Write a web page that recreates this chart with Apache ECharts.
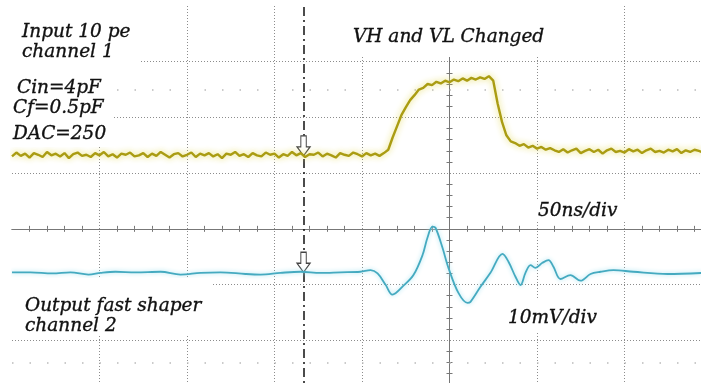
<!DOCTYPE html>
<html><head><meta charset="utf-8">
<script src="https://cdn.jsdelivr.net/npm/echarts@6/dist/echarts.min.js"></script>
<style>html,body{margin:0;padding:0;background:#fff}#c{width:701px;height:383px}</style>
</head><body><div id="c"></div><script>
// Time axis in ns (50 ns/div), vertical axis in screen divisions
const ch1Start = -250, ch1Step = 2.5;
const ch1Values = [
1.30,1.37,1.31,1.35,1.28,1.36,1.33,1.29,1.38,1.32,
1.35,1.30,1.36,1.27,1.34,1.37,1.31,1.33,1.29,1.36,
1.32,1.38,1.30,1.34,1.28,1.35,1.33,1.37,1.30,1.32,
1.36,1.29,1.35,1.31,1.38,1.33,1.28,1.34,1.36,1.30,
1.33,1.37,1.29,1.35,1.32,1.36,1.30,1.34,1.27,1.35,
1.33,1.38,1.31,1.34,1.29,1.36,1.32,1.30,1.37,1.33,
1.35,1.28,1.34,1.31,1.38,1.32,1.36,1.29,1.34,1.33,
1.37,1.30,1.35,1.32,1.28,1.36,1.33,1.31,1.37,1.34,
1.30,1.36,1.32,1.35,1.31,1.36,
1.42,1.64,1.84,2.04,2.18,2.31,2.40,2.50,2.53,2.60,
2.58,2.64,2.61,2.66,2.63,2.68,2.65,2.70,2.66,2.71,
2.68,2.72,2.69,2.74,2.66,2.25,1.92,1.68,1.57,1.54,
1.49,1.52,1.46,1.49,1.44,1.47,1.42,1.45,1.41,
1.38,1.43,1.37,1.41,1.44,1.36,1.40,1.43,1.38,1.42,
1.35,1.41,1.44,1.38,1.40,1.37,1.43,1.39,1.42,1.36,
1.41,1.44,1.38,1.40,1.37,1.42,1.39,1.43,1.36,1.41,
1.38,1.42,1.40,1.37
];
const ch2Times = [-250,-239.4,-226.9,-216.6,-206.3,-199.4,-190.9,-179.4,-165.1,-153.7,-142.3,-130.9,-116.6,-108,-96.6,-85.1,-73.7,-62.3,-50.9,-45.1,-41.1,-36.6,-32.6,-26.3,-20.6,-15.4,-12.6,-9.7,-8,-4,-0.6,5.1,10.3,12,17.7,23.4,30.3,33.7,37.7,40.6,43.4,46.3,49.1,53.1,56.6,59.4,63.4,69.1,74.9,80.6,86.3,93.7,105,124.6,145];
const ch2Values = [-0.78,-0.78,-0.80,-0.78,-0.82,-0.79,-0.77,-0.78,-0.77,-0.82,-0.79,-0.78,-0.81,-0.82,-0.79,-0.77,-0.79,-0.78,-0.77,-0.74,-0.80,-1.00,-1.18,-1.02,-0.83,-0.47,-0.16,0.04,0.02,-0.34,-0.70,-1.15,-1.33,-1.31,-1.04,-0.79,-0.45,-0.59,-0.86,-1.01,-0.79,-0.65,-0.70,-0.61,-0.56,-0.68,-0.90,-0.83,-0.93,-0.81,-0.77,-0.74,-0.77,-0.81,-0.79];
const cursorTime = -83.4;
const ch1Ref = 1.31, ch2Ref = -0.78;
const dotRows = [2.5, -2.4];
const texts = {
  in1: 'Input 10 pe', in2: 'channel 1', p1: 'Cin=4pF', p2: 'Cf=0.5pF', p3: 'DAC=250',
  title: 'VH and VL Changed', tdiv: '50ns/div', vdiv: '10mV/div',
  out1: 'Output fast shaper', out2: 'channel 2'
};

const ch1Data = ch1Values.map((v, i) => [ch1Start + i * ch1Step, v]);
const ch2Data = ch2Values.map((v, i) => [ch2Times[i], v]);

const gridCol = '#8c8c8c', axisCol = '#777';
const FONT = 'italic 18.5px "DejaVu Serif"';
const arrowPath = 'path://M3.5,0 L8.5,0 L8.5,11 L12,11 L6,20 L0,11 L3.5,11 Z';

function xAx(pos, split) {
  return { type: 'value', position: pos, min: -250, max: 150, interval: 50,
    axisLine: { show: true, onZero: true, lineStyle: { color: axisCol, width: 1 } },
    axisTick: { show: false }, axisLabel: { show: false },
    minorTick: { show: true, splitNumber: 5, length: 3, lineStyle: { color: axisCol } },
    splitLine: { show: split, showMinLine: false, showMaxLine: false, lineStyle: { color: gridCol, type: [1, 2] } } };
}
function yAx(pos, split) {
  return { type: 'value', position: pos, min: -3, max: 4, interval: 1,
    axisLine: { show: true, onZero: true, lineStyle: { color: axisCol, width: 1 } },
    axisTick: { show: false }, axisLabel: { show: false },
    minorTick: { show: true, splitNumber: 5, length: 3, lineStyle: { color: axisCol } },
    splitLine: { show: split, showMinLine: false, showMaxLine: false, lineStyle: { color: gridCol, type: [1, 2] } } };
}
function txt(t, x, y) {
  return { type: 'text', z: 21, style: { text: t, x: x, y: y, font: FONT, fill: '#111', verticalAlign: 'top', stroke: '#111', lineWidth: 0.35 } };
}
function box(x, y, w, h) {
  return { type: 'rect', z: 20, shape: { x: x, y: y, width: w, height: h }, style: { fill: '#fff' } };
}

const chart = echarts.init(document.getElementById('c'), null, { renderer: 'canvas' });
chart.setOption({
  animation: false,
  backgroundColor: '#fff',
  grid: { left: 12, top: 6, width: 700, height: 390, containLabel: false, outerBoundsMode: 'none' },
  xAxis: [xAx('bottom', true), xAx('top', false)],
  yAxis: [yAx('left', true), yAx('right', false)],
  series: [
    { type: 'line', data: ch1Data, xAxisIndex: 0, yAxisIndex: 0, symbol: 'none', z: 5,
      lineStyle: { color: '#aa9c12', width: 2.4, shadowColor: 'rgba(228,218,90,0.95)', shadowBlur: 6 },
      markLine: { silent: true, symbol: 'none', label: { show: false },
        lineStyle: { color: '#111', width: 1.5, type: [9, 4, 2, 4] },
        data: [{ xAxis: cursorTime }] },
      markPoint: { silent: true, symbol: arrowPath, symbolSize: [13, 20], symbolOffset: [0, -10], label: { show: false },
        itemStyle: { color: '#fff', borderColor: '#444', borderWidth: 1.2 },
        data: [{ coord: [cursorTime, ch1Ref] }] } },
    { type: 'line', data: ch2Data, xAxisIndex: 0, yAxisIndex: 0, symbol: 'none', smooth: 0.35, z: 5,
      lineStyle: { color: '#45aac0', width: 1.8, shadowColor: 'rgba(160,226,240,0.95)', shadowBlur: 4 },
      markLine: { silent: true, symbol: 'none', label: { show: false },
        lineStyle: { color: '#bbb', width: 1.5, type: [1.5, 16] },
        data: dotRows.map(v => ({ yAxis: v })) },
      markPoint: { silent: true, symbol: arrowPath, symbolSize: [13, 20], symbolOffset: [0, -10], label: { show: false },
        itemStyle: { color: '#fff', borderColor: '#444', borderWidth: 1.2 },
        data: [{ coord: [cursorTime, ch2Ref] }] } }
  ],
  graphic: [
    box(0, 0, 140, 70), box(0, 70, 112, 77), box(346, 0, 214, 57),
    box(537, 200, 90, 22), box(500, 298, 110, 35), box(0, 278, 213, 58),
    txt(texts.in1, 22, 23), txt(texts.in2, 22, 43),
    txt(texts.p1, 17, 79), txt(texts.p2, 13, 99), txt(texts.p3, 13, 125),
    txt(texts.title, 353, 28), txt(texts.tdiv, 538, 202), txt(texts.vdiv, 508, 309),
    txt(texts.out1, 25, 297), txt(texts.out2, 25, 317)
  ]
});
</script></body></html>
